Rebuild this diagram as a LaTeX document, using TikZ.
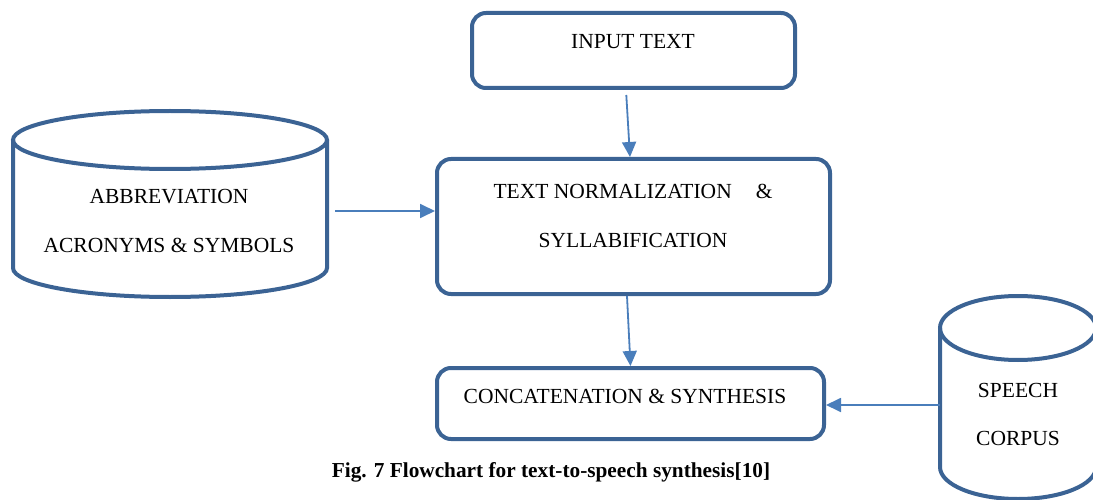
\documentclass[tikz,border=0pt]{standalone}
\usepackage{fontspec}
\setmainfont{Liberation Serif}
\usetikzlibrary{arrows.meta,calc}
\usepackage{xcolor}
\definecolor{color3b6394}{HTML}{3B6394}
\definecolor{color4a7ebb}{HTML}{4A7EBB}

\begin{document}
\begin{tikzpicture}
    [x=1pt, y=-1pt,
     >={Triangle[length=15pt, width=14pt]},  % Uniform arrow style
     box/.style={draw=color3b6394, line width=4pt, rounded corners=14pt, inner sep=0pt},
     db/.style={draw=color3b6394, line width=4pt},
     flow/.style={->, draw=color4a7ebb, line width=1.8pt},
     txt/.style={font=\fontsize{21.5}{25}\selectfont, inner sep=0pt},
    ]

\useasboundingbox (0,0) rectangle (1093,500);
\clip (0,0) rectangle (1093,500);

% process boxes
\node[box, minimum width=323pt, minimum height=75pt] (node_input) at (633.5,50.5) {};
\node[box, minimum width=393pt, minimum height=135pt] (node_norm) at (633.5,226.5) {};
\node[box, minimum width=387pt, minimum height=71pt] (node_concat) at (630.5,403.5) {};

\node[txt] (text_input) at (633,42) {INPUT TEXT};
\node[txt] (text_norm_a) at (633,191) {TEXT NORMALIZATION\hspace{24pt}\&};
\node[txt] (text_norm_b) at (633,240) {SYLLABIFICATION};
\node[txt] (text_concat) at (625,396) {CONCATENATION \& SYNTHESIS};

% databases
\draw[db] (13,140) -- (13,268) arc[start angle=180, end angle=0, x radius=157, y radius=29] -- (327,140);
\draw[db] (170,140) ellipse[x radius=157, y radius=29];
\draw[db] (940,328) -- (940,467) arc[start angle=180, end angle=0, x radius=78, y radius=32] -- (1096,328);
\draw[db] (1018,328) ellipse[x radius=78, y radius=32];

\node[txt] (text_abbr_a) at (169,197) {ABBREVIATION};
\node[txt] (text_abbr_b) at (169,245) {ACRONYMS \& SYMBOLS};
\node[txt] (text_corpus_a) at (1018,390) {SPEECH};
\node[txt] (text_corpus_b) at (1018,438) {CORPUS};

\coordinate (node_abbr) at (335,211);
\coordinate (node_corpus) at (940,405);

% connectors
\draw[flow, shorten <=5pt] ([xshift=-7.5pt]node_input.south) -- ([xshift=-3.5pt]node_norm.north);
\draw[flow] ([xshift=-6.5pt]node_norm.south) -- (node_concat.north);
\draw[flow] (node_abbr) -- (node_abbr -| node_norm.west);
\draw[flow] (node_corpus) -- (node_corpus -| node_concat.east);

% caption
\node[font=\fontsize{21.3}{25}\selectfont\bfseries, inner sep=0pt] (node_caption) at (551,472) {Fig. 7 Flowchart for text-to-speech synthesis[10]};

\end{tikzpicture}
\end{document}
